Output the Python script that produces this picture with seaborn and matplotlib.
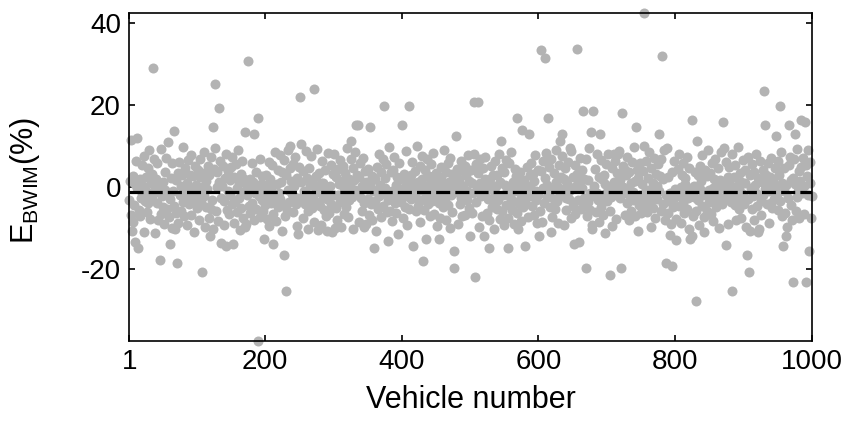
import numpy as np
import pandas as pd
import matplotlib
matplotlib.use("Agg")
import matplotlib.pyplot as plt
import seaborn as sns

# ---------------- data ----------------
vehicle = np.arange(1, 1001)

# typical errors (per vehicle, read row by row, 50 vehicles per row)
band = [
    -3.2, 1.5, -6.8, 4.1, -1.0, -8.5, 2.7, -4.4, 0.6, -2.1, 6.3, -9.7, -0.4, 3.8, -5.6, 1.9, -7.2, -2.8, 5.4, -1.6, 0.2, -10.9, 7.6, -3.5, -0.9, 2.4, -6.1, 4.7, -4.0, 8.9, -1.8, -7.9, 0.9, 3.1, -2.6, -5.0, 6.8, -0.2, -11.3, 2.0, -3.9, 5.9, -8.1, 0.4, -1.3, 4.3, -6.6, 9.2, -2.3, -4.8,
    1.2, -9.0, 3.6, -0.7, 7.1, -5.3, -2.0, 0.8, -7.4, 4.9, -3.0, 2.2, -10.1, 5.7, -1.1, -4.6, 8.3, -0.5, 1.7, -6.3, -2.9, 3.4, -8.8, 6.0, -1.9, 0.1, -5.8, 2.9, -3.6, 9.8, -7.0, -0.3, 4.5, -2.4, -9.4, 1.0, 6.6, -4.2, -1.4, 3.0, -6.9, 7.8, -0.8, -3.3, 2.6, -11.0, 5.1, -2.7, 0.5, -5.1,
    4.0, -1.7, -8.0, 2.3, 6.9, -3.8, 0.0, -6.4, 3.3, -2.2, 8.6, -9.9, 1.4, -4.9, -0.6, 5.2, -7.7, 2.8, -1.2, -5.4, 7.3, -3.1, 0.7, -10.4, 4.4, -2.5, 9.5, -6.0, -0.1, 3.7, -8.4, 1.1, -4.1, 6.2, -2.8, -7.1, 0.3, 5.0, -3.4, -9.2, 2.1, -1.5, 8.0, -5.7, 3.9, -0.9, -6.7, 1.6, -2.0, 4.8,
    -4.3, 7.4, -1.0, -8.7, 2.5, -3.7, 5.5, -0.4, -6.2, 9.1, -2.6, 0.9, -10.6, 3.2, -5.2, 6.4, -1.3, -7.5, 1.8, -3.0, 4.6, -9.1, 0.2, -2.1, 8.1, -4.7, 2.0, -6.5, -0.8, 5.8, -3.9, 1.3, -8.2, 7.0, -1.6, -5.5, 3.5, -0.3, -10.0, 4.2, -2.3, 6.7, -7.3, 0.6, -3.2, 2.7, -5.9, 9.6, -1.1, -4.4,
    3.0, -7.8, 0.5, -2.7, 6.1, -9.5, 1.9, -4.0, -0.2, 5.3, -6.6, 2.4, -1.9, 8.4, -3.5, -8.3, 0.8, 4.0, -5.0, -1.4, 7.7, -2.9, 1.1, -10.7, 3.6, -4.5, 0.0, 6.5, -7.0, -2.2, 2.9, -5.6, 9.0, -0.7, -3.6, 4.7, -8.9, 1.5, -1.8, 5.6, -6.1, 0.3, -2.4, 7.2, -4.2, -9.6, 2.2, -0.5, 4.9, -3.1,
    -5.3, 1.2, 6.0, -2.5, -7.6, 3.8, -0.9, -4.1, 8.7, -1.5, 2.1, -6.0, -10.2, 4.5, -3.3, 0.4, 7.5, -5.2, 1.7, -2.0, -8.6, 5.1, -0.1, -3.8, 2.6, 9.3, -6.8, -1.2, 3.3, -4.6, 0.9, -9.3, 6.3, -2.6, 1.0, -5.7, 4.1, -0.6, -7.2, 2.8, -3.0, 8.2, -1.7, -6.3, 0.1, 5.4, -4.3, -11.1, 3.1, -2.1,
    7.9, -0.3, -5.1, 2.3, -8.0, 4.3, -1.9, 0.6, -3.7, 6.6, -9.8, 1.4, -2.8, 5.0, -6.7, -0.4, 3.4, -4.8, 9.4, -1.1, -7.4, 2.0, -3.2, 0.7, 6.8, -5.5, -2.4, 4.6, -10.3, 1.6, -0.8, 8.5, -6.4, 3.0, -1.3, -4.4, 2.5, -8.5, 5.7, -2.7, 0.2, -5.9, 7.0, -1.6, -3.9, 3.9, -9.0, 1.3, -0.5, 4.4,
    -2.9, -6.9, 6.2, 0.8, -4.2, 2.7, -8.1, -1.0, 5.3, -3.4, 1.9, -10.8, 4.8, -0.7, -5.4, 8.0, -2.3, 0.4, -7.3, 3.5, -1.4, 6.9, -4.7, -9.1, 2.2, -0.2, 5.6, -6.2, 1.0, -3.1, 9.7, -2.0, -5.8, 3.7, -0.9, -8.4, 4.2, -1.8, 7.3, -4.0, 0.5, -6.5, 2.4, -2.6, -11.4, 5.9, -0.6, 1.8, -3.6, 6.4,
    -1.2, -7.7, 3.2, 0.0, -4.9, 8.8, -2.2, -9.4, 1.5, 4.7, -5.3, -0.4, 2.9, -3.0, 6.0, -7.9, -1.5, 0.9, 3.8, -6.0, -2.8, 9.9, -4.6, 1.1, -0.8, 5.2, -8.6, -3.3, 2.0, 7.6, -1.9, -5.6, 0.3, 4.0, -10.5, -2.1, 6.7, -0.1, -4.3, 2.6, -7.0, 1.7, 5.5, -3.5, -1.0, 8.3, -6.6, 0.6, -2.5, 3.3,
    -9.6, 1.8, -0.3, 6.1, -3.9, -7.5, 2.5, 4.9, -1.7, -5.0, 0.7, 9.0, -2.9, -8.2, 3.6, -0.6, 5.8, -4.5, 1.2, -10.0, 7.1, -2.0, -6.1, 3.1, 0.2, -3.8, 8.6, -1.3, -5.8, 2.4, 4.4, -9.0, -0.5, 1.6, -4.1, 6.4, -2.6, -7.1, 3.9, 0.1, -1.8, 5.0, -6.8, 2.9, -3.2, -0.9, 7.8, -5.1, 1.4, -2.4,
    4.1, -6.3, 0.9, -1.5, 8.9, -8.7, 2.2, -3.6, 5.5, -0.7, -5.2, 3.4, -9.7, 1.0, 6.7, -2.3, -0.2, -7.2, 4.6, -4.0, 2.0, 7.4, -1.1, -6.4, 0.6, -3.0, 9.2, -8.0, 1.9, -0.4, 5.1, -4.8, -2.7, 3.0, -10.4, 6.2, -1.6, 0.3, -5.5, 2.8, -3.3, 8.1, -7.8, 1.3, -0.8, 4.5, -6.0, -2.1, 3.7, -9.3,
    0.4, 6.5, -4.4, -1.2, 2.3, -7.6, 5.7, -2.5, -0.5, 8.4, -5.7, 1.1, -3.4, -9.0, 4.3, -0.9, 2.6, -6.5, 7.2, -1.9, -4.2, 0.8, 3.5, -8.3, -2.8, 6.0, -0.1, -5.0, 1.7, 9.5, -3.7, -1.4, 4.8, -7.3, 0.2, -10.1, 2.9, -2.2, 5.9, -4.6, -0.7, 3.2, -6.9, 1.5, 7.7, -3.1, -1.0, -8.8, 4.0, -2.0,
    1.0, -5.9, 3.9, -1.6, -8.5, 6.3, -0.3, -3.9, 2.1, -6.7, 8.2, -2.4, 0.5, -10.6, 4.9, -1.3, -4.9, 2.7, 6.9, -7.4, -0.6, 3.3, -2.9, -5.3, 9.1, 1.2, -3.5, -8.9, 0.0, 5.3, -1.7, -6.2, 2.4, 7.5, -4.1, -0.8, 1.8, -9.2, 4.6, -2.6, -5.6, 0.7, 6.1, -3.0, -1.1, 3.6, -7.7, 8.7, -0.4, -4.7,
    2.5, -2.1, -6.6, 5.4, 0.3, -9.9, 3.1, -3.2, 1.4, -1.0, 7.0, -5.4, -0.2, 4.2, -8.1, 2.0, -2.7, -4.3, 6.8, 0.6, -7.0, 1.6, -3.8, 9.4, -1.5, -5.7, 3.8, -0.9, -10.3, 5.0, -2.3, 0.1, 4.4, -6.1, -1.4, 8.0, -3.3, 2.3, -8.6, -0.5, 6.6, -4.9, 1.9, -2.0, -6.8, 3.0, 0.8, -11.2, 5.6, -1.2,
    -3.4, 7.9, -0.7, -6.0, 2.6, -2.5, 4.7, -9.5, 0.4, -4.5, 1.1, 6.4, -1.8, -7.8, 3.4, -0.1, -5.1, 8.8, -2.6, 1.7, -3.7, -9.3, 5.2, 0.0, -1.5, 4.0, -6.9, 2.8, -4.0, 7.3, -0.6, -8.0, 3.7, -2.2, 0.9, -5.8, 6.0, -1.3, -3.1, 9.6, -7.2, 1.5, -0.3, 4.1, -10.8, 2.2, -4.4, -1.9, 5.8, -6.3,
    0.7, -2.9, 3.9, -8.4, 1.3, -4.8, 6.2, -0.8, -6.1, 2.1, -1.7, 8.5, -3.6, -9.7, 4.5, -0.4, 1.0, -5.2, 7.1, -2.4, -7.5, 3.2, 0.2, -3.0, 5.5, -1.1, -10.5, 2.7, -5.9, 6.7, -0.9, 1.8, -4.2, 9.0, -8.2, -2.0, 4.8, -0.2, -6.4, 2.4, -3.5, 7.6, -1.4, -9.1, 0.5, 3.6, -5.0, -2.7, 6.3, -0.6,
    -7.9, 1.9, -1.6, 4.3, -4.7, 8.1, -2.2, -0.1, -8.8, 3.0, 5.9, -3.9, -6.5, 0.8, 2.2, -1.0, -5.5, 7.4, -2.8, -10.2, 4.7, 1.2, -0.7, -4.0, 6.5, -7.1, 0.3, -2.5, 3.5, 9.3, -6.0, -1.8, 2.9, -3.3, -9.4, 5.0, -0.5, 1.4, -4.6, 7.7, -2.1, -7.4, 0.0, 4.1, -1.3, -5.9, 2.6, 8.9, -3.7, -0.8,
    3.3, -6.7, -1.9, 5.7, -0.4, -8.3, 2.0, -3.1, 6.9, -5.0, 0.6, -1.2, 4.6, -10.0, 1.6, -2.6, 8.4, -4.3, -0.2, 3.1, -7.0, 1.0, -2.4, 6.0, -5.8, -0.9, 2.5, -9.0, 4.9, -1.5, 0.4, -3.6, 7.9, -6.2, -1.1, 2.3, -4.4, 5.3, -8.0, 0.1, -2.8, 9.7, -0.6, -5.3, 3.4, 1.3, -7.6, -3.2, 6.6, -1.7,
    -4.1, 0.9, 4.2, -9.8, -1.4, 7.2, -3.0, 1.5, -6.3, 2.8, -0.3, -5.5, 5.6, -2.2, -8.1, 3.7, 0.5, -1.6, 8.0, -4.7, -10.9, 2.1, -0.8, 6.4, -3.4, -6.9, 1.2, 4.0, -2.0, 9.1, -7.3, -0.5, 3.0, -4.2, 0.8, 5.9, -1.0, -8.7, 2.4, -3.9, 7.0, -5.1, -0.2, 1.9, -2.9, 4.7, -9.2, 0.3, -1.8, 6.2,
    -5.6, 2.9, -0.6, -3.4, 8.6, -7.0, 1.0, -2.3, 4.5, -1.1, -6.4, 0.4, 3.6, -9.9, -2.7, 5.3, -0.1, 7.4, -4.5, 1.7, -8.0, -1.3, 2.2, 6.8, -3.6, 0.6, -5.9, 9.2, -2.5, -0.9, 3.9, -7.7, 1.4, 4.8, -4.0, -1.6, 7.1, -6.6, 0.2, -3.0, 5.4, -10.1, 2.7, -1.9, 8.3, -4.8, 0.9, 6.0, -7.5, -2.2,
]

# individually read larger errors
outlier_vehicle = [4, 12, 5, 10, 14, 36, 46, 58, 60, 67, 68, 71, 108, 119, 123, 126, 133, 136,
                   142, 153, 170, 171, 175, 184, 189, 190, 198, 212, 227, 230, 237, 248, 251, 253,
                   272, 277, 290, 302, 326, 333, 336, 344, 353, 359, 374, 379, 400, 410, 416, 431,
                   435, 454, 476, 477, 479, 500, 505, 506, 507, 511, 520, 527, 545, 555, 569, 570,
                   576, 580, 586, 601, 604, 610, 614, 618, 632, 635, 646, 652, 656, 660, 665, 670,
                   677, 678, 680, 690, 705, 710, 717, 721, 722, 743, 754, 755, 777, 781, 787, 788,
                   792, 795, 802, 822, 824, 825, 830, 832, 843, 870, 871, 875, 884, 905, 908, 909,
                   923, 930, 931, 947, 953, 958, 963, 967, 972, 975, 985, 990, 992, 995, 996, 999]
outlier_value = [11.5, 11.9, -10.8, -13.5, -15.0, 29.0, -17.9, 11.0, -13.9, 13.5, -10.2, -18.6, -20.8, -12.1, 14.6, 25.0, 19.2, -13.7,
                 -14.5, -13.9, -9.8, 13.3, 30.8, 12.9, 16.9, -37.6, -12.7, -13.9, -16.7, -25.5, 9.9, -11.5, 22.0, 10.5,
                 23.8, -10.5, -10.7, -10.1, 11.1, 15.1, 15.1, -9.9, 14.6, -15.0, 19.8, -13.3, 15.1, 19.8, -14.4, -18.0,
                 -12.7, -12.7, -19.7, -15.6, 12.3, -12.1, 20.8, 8.0, -21.9, 20.8, -12.1, -15.0, 11.1, -15.0, 16.9, -10.2,
                 13.9, -14.4, 12.9, -12.1, 33.3, 31.4, 16.9, -10.9, 11.1, 12.9, 9.4, -13.9, 33.7, -13.5, 18.5, -19.7,
                 13.3, -9.3, 18.5, 12.9, -21.5, 8.0, 8.0, -19.7, 18.0, 14.6, 42.4, 9.9, 12.9, 32.0, -18.6, 9.4,
                 -11.7, -19.2, -12.9, -12.7, 16.3, -12.0, -27.8, 11.1, -10.9, 15.7, 9.4, -14.3, -25.5, -16.7, -20.8, -10.7,
                 -10.2, 23.3, 15.1, 12.3, 19.8, -14.4, -12.1, 15.1, -23.1, 12.9, 16.3, 15.7, -23.1, 9.0, -15.6, -7.5]

mean_error = -1.2

x_ticks = [1, 200, 400, 600, 800, 1000]
y_ticks = [-20, 0, 20, 40]
x_label = "Vehicle number"
y_label = r"E$_{\mathrm{BWIM}}$(%)"

e_bwim = np.array(band, dtype=float)
e_bwim[np.array(outlier_vehicle) - 1] = outlier_value
df = pd.DataFrame({"vehicle": vehicle, "e_bwim": e_bwim})

# ---------------- plot ----------------
sns.set_style("ticks")
plt.rcParams["font.family"] = ["Liberation Sans", "DejaVu Sans"]
plt.rcParams["mathtext.fontset"] = "custom"
plt.rcParams["mathtext.rm"] = "Liberation Sans"
plt.rcParams["mathtext.it"] = "Liberation Sans"
plt.rcParams["axes.unicode_minus"] = False
plt.rcParams["text.color"] = "black"
plt.rcParams["axes.labelcolor"] = "black"

fig = plt.figure(figsize=(8.46, 4.23), dpi=100)
ax = fig.add_axes([0.1528, 0.1938, 0.8067, 0.7755])

sns.scatterplot(data=df, x="vehicle", y="e_bwim", ax=ax, color=(0.70, 0.70, 0.70),
                s=52, linewidth=0, clip_on=False, zorder=2, legend=False)
sns.lineplot(x=[vehicle[0], vehicle[-1]], y=[mean_error, mean_error], ax=ax,
             color="black", linewidth=2.3, linestyle=(0, (4.4, 1.6)), zorder=3)

ax.set_xlim(vehicle[0], vehicle[-1])
ax.set_ylim(e_bwim.min(), e_bwim.max())
ax.set_xticks(x_ticks)
ax.set_yticks(y_ticks)
ax.tick_params(direction="in", length=4, width=1.2, labelsize=20, pad=6,
               top=True, right=True, colors="black", labelcolor="black")
for sp in ax.spines.values():
    sp.set_visible(True)
    sp.set_linewidth(1.2)
    sp.set_color("black")
ax.set_xlabel(x_label, fontsize=22, labelpad=7, color="black")
ax.set_ylabel(y_label, fontsize=22, color="black")
ax.yaxis.set_label_coords(-0.128, 0.49)

fig.savefig("out.png", dpi=100)
